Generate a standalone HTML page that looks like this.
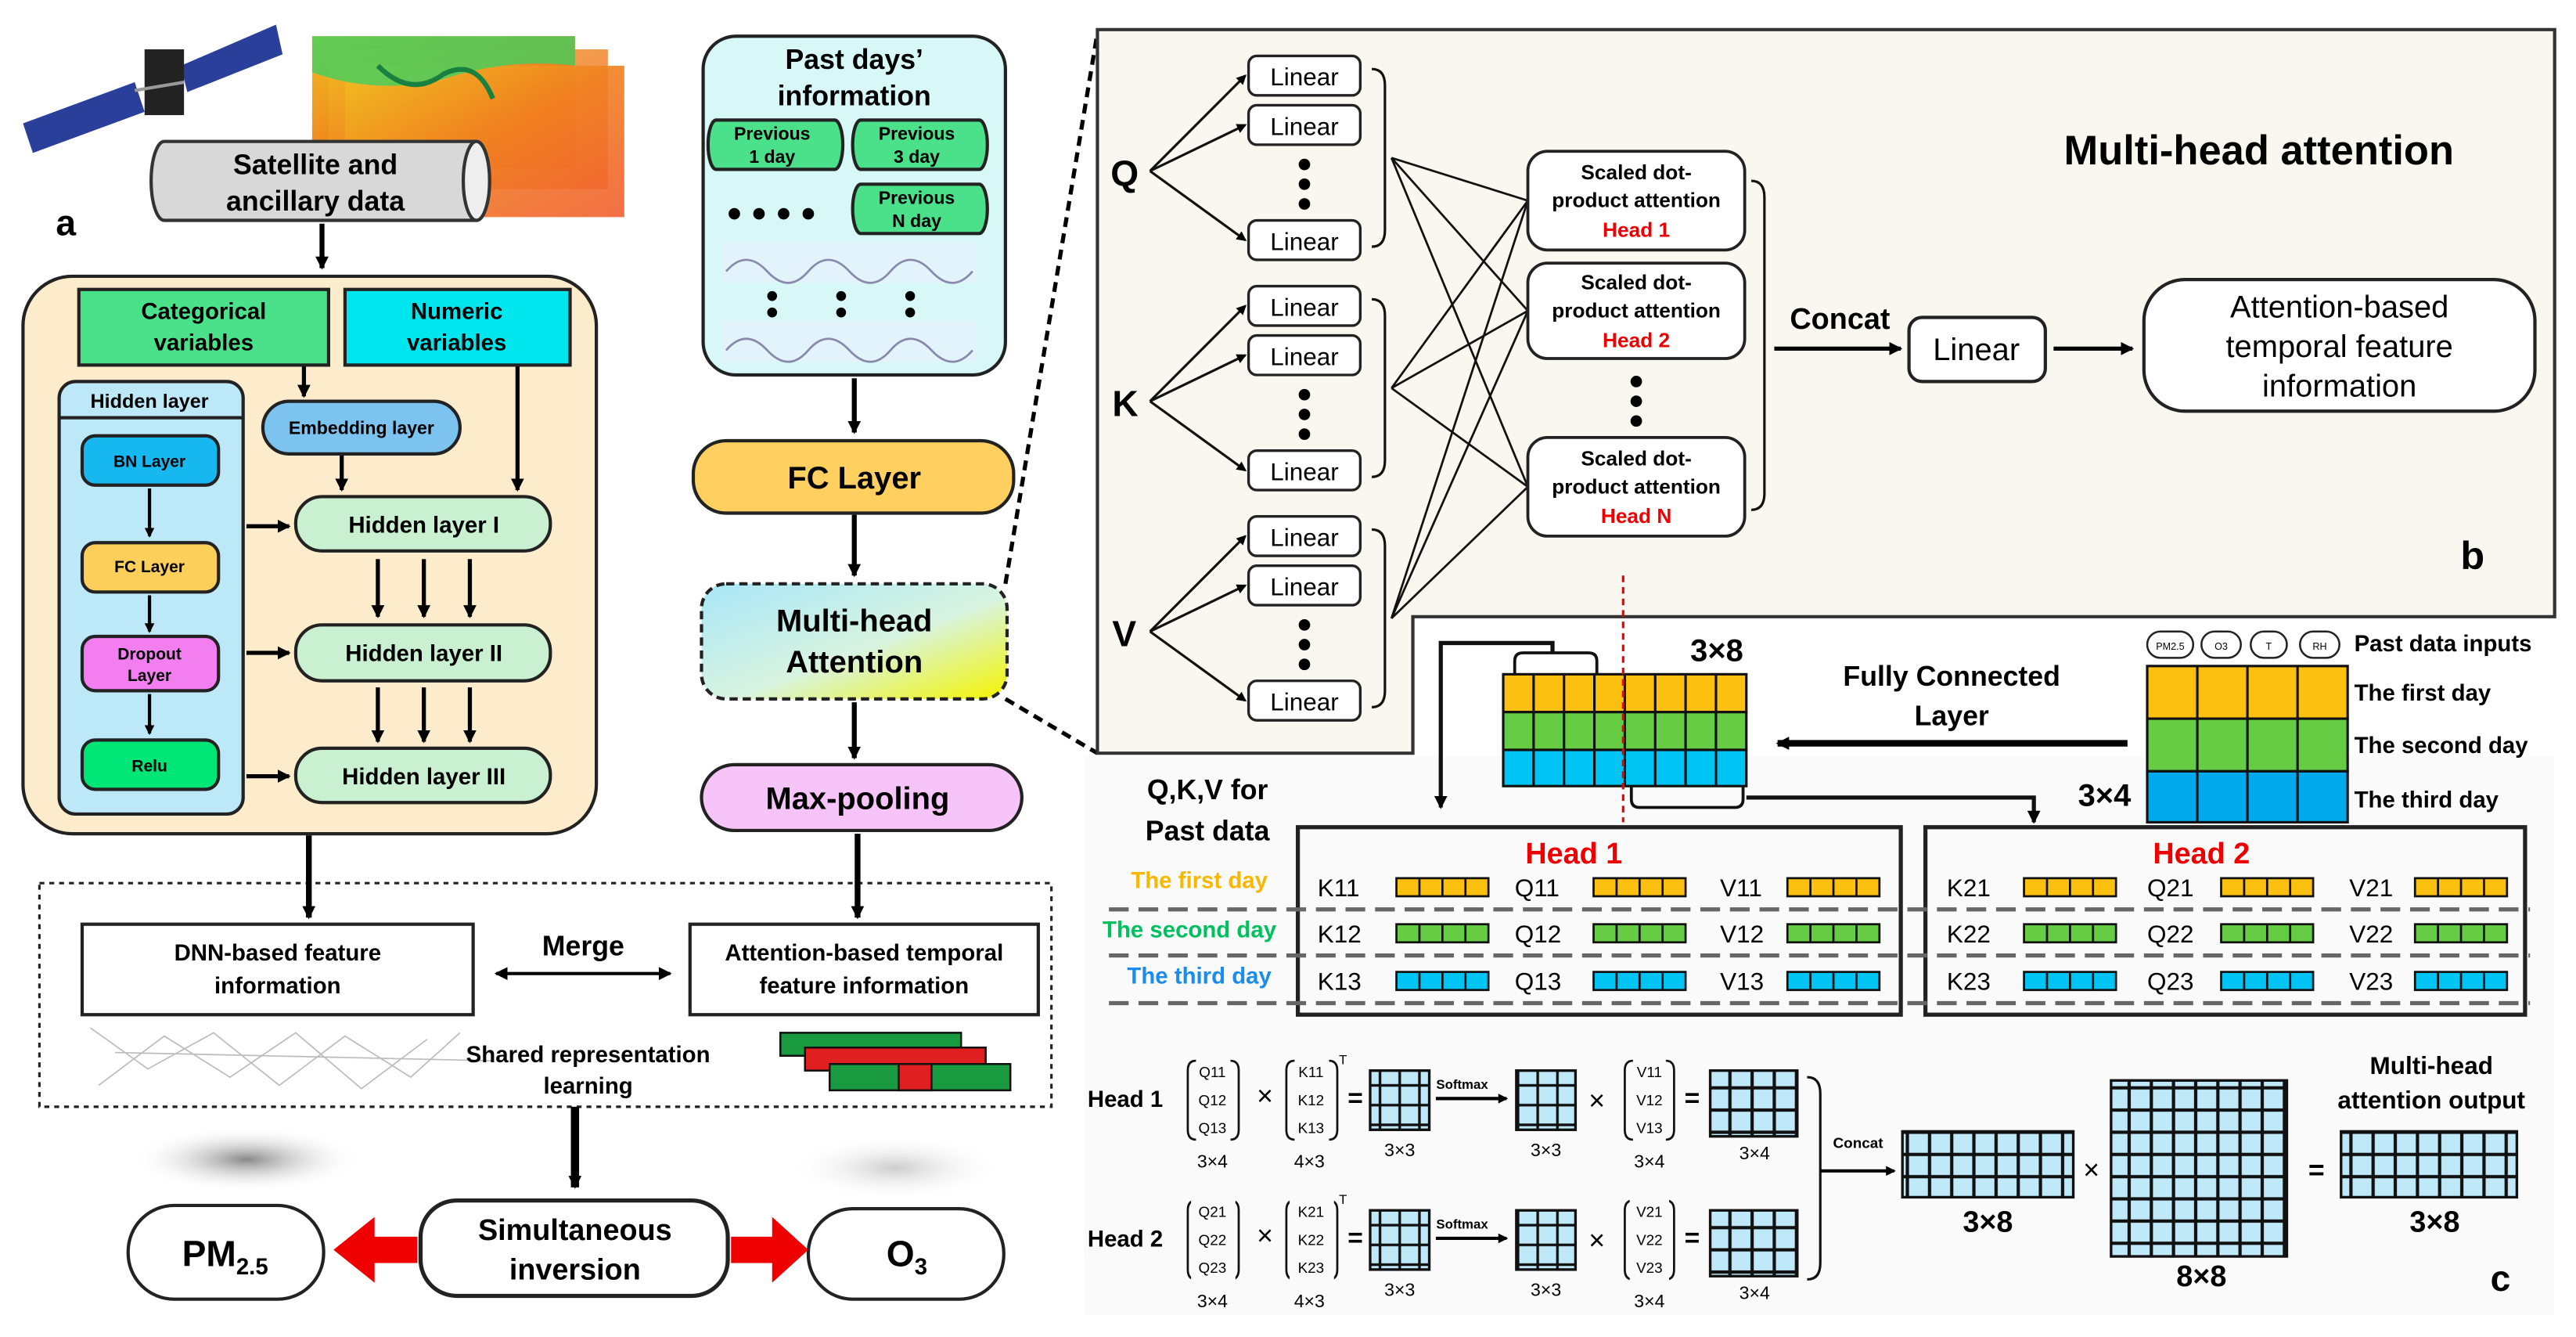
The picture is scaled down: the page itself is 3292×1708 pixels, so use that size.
<!DOCTYPE html>
<html><head><meta charset="utf-8"><style>
html,body{margin:0;padding:0;background:#fff}
svg{display:block}
text{font-family:"Liberation Sans",Arial,sans-serif}
</style></head><body>
<svg width="3292" height="1708" viewBox="0 0 1568 813" preserveAspectRatio="none" xmlns="http://www.w3.org/2000/svg">
<defs>
<marker id="ah" markerWidth="8" markerHeight="8" refX="7" refY="4" orient="auto-start-reverse" markerUnits="userSpaceOnUse"><path d="M0,0 L8,4 L0,8 z" fill="#000"/></marker>
<marker id="ahs" markerWidth="6" markerHeight="6" refX="5" refY="3" orient="auto" markerUnits="userSpaceOnUse"><path d="M0,0 L6,3 L0,6 z" fill="#000"/></marker>
<pattern id="g13" width="13.5" height="13.5" patternUnits="userSpaceOnUse"><rect width="13.5" height="13.5" fill="#bfe8f8" stroke="#111" stroke-width="2"/></pattern>
<pattern id="gs" width="12" height="12" patternUnits="userSpaceOnUse"><rect width="12" height="12" fill="#bfe8f8" stroke="#111" stroke-width="1.6"/></pattern>
<linearGradient id="mha" x1="0" y1="0" x2="1" y2="1"><stop offset="0" stop-color="#a8e6f8"/><stop offset="0.55" stop-color="#d8f4e0"/><stop offset="1" stop-color="#f4f400"/></linearGradient>
<linearGradient id="map" x1="0" y1="0" x2="1" y2="1"><stop offset="0" stop-color="#f0c020"/><stop offset="0.5" stop-color="#f08020"/><stop offset="1" stop-color="#f06030"/></linearGradient>
<radialGradient id="smog"><stop offset="0" stop-color="#888"/><stop offset="1" stop-color="#fff" stop-opacity="0"/></radialGradient>
<radialGradient id="smog2"><stop offset="0" stop-color="#ccc"/><stop offset="1" stop-color="#fff" stop-opacity="0"/></radialGradient>
</defs>

<!-- ===== Panel a ===== -->
<g>
<polygon points="14,75 82,50 88,68 20,93" fill="#2a3f9a"/>
<polygon points="110,40 168,15 172,33 114,56" fill="#2a3f9a"/>
<rect x="88" y="30" width="24" height="40" fill="#222"/>
<line x1="82" y1="55" x2="112" y2="50" stroke="#999" stroke-width="2"/>
</g>
<rect x="190" y="22" width="160" height="80" fill="url(#map)"/>
<rect x="200" y="30" width="170" height="85" fill="url(#map)" opacity="0.8"/>
<rect x="210" y="40" width="170" height="92" fill="url(#map)" opacity="0.9"/>
<path d="M190,22 h160 v18 q-40,-5 -80,8 q-40,10 -80,-4 z" fill="#40d060" opacity="0.8"/>
<path d="M230,40 q20,20 40,5 q20,-10 30,15" fill="none" stroke="#1a8040" stroke-width="3"/>
<path d="M100,86 L290,86 A8,24 0 0 1 290,134 L100,134 A8,24 0 0 1 100,86 z" fill="#d8d8d8" stroke="#333" stroke-width="2"/>
<ellipse cx="290" cy="110" rx="8" ry="24" fill="#eee" stroke="#333" stroke-width="2"/>
<text x="192" y="106" font-size="17" font-weight="bold" text-anchor="middle">Satellite and</text>
<text x="192" y="128" font-size="17" font-weight="bold" text-anchor="middle">ancillary data</text>
<text x="34" y="143" font-size="22" font-weight="bold">a</text>
<line x1="196" y1="136" x2="196" y2="163" stroke="#000" stroke-width="3" marker-end="url(#ah)"/>

<rect x="14" y="168" width="349" height="339" rx="30" fill="#fdeccb" stroke="#222" stroke-width="2"/>
<rect x="48" y="176" width="152" height="46" fill="#4be08a" stroke="#222" stroke-width="2"/>
<text x="124" y="194" font-size="14" font-weight="bold" text-anchor="middle">Categorical</text>
<text x="124" y="213" font-size="14" font-weight="bold" text-anchor="middle">variables</text>
<rect x="210" y="176" width="137" height="46" fill="#00e6ee" stroke="#222" stroke-width="2"/>
<text x="278" y="194" font-size="14" font-weight="bold" text-anchor="middle">Numeric</text>
<text x="278" y="213" font-size="14" font-weight="bold" text-anchor="middle">variables</text>

<rect x="36" y="232" width="112" height="263" rx="10" fill="#bde8f8" stroke="#222" stroke-width="2"/>
<line x1="36" y1="254" x2="148" y2="254" stroke="#222" stroke-width="2"/>
<text x="91" y="248" font-size="12" font-weight="bold" text-anchor="middle">Hidden layer</text>
<rect x="50" y="265" width="83" height="30" rx="8" fill="#17b8f0" stroke="#222" stroke-width="2"/>
<text x="91" y="284" font-size="10" font-weight="bold" text-anchor="middle">BN Layer</text>
<rect x="50" y="330" width="83" height="30" rx="8" fill="#fccf5a" stroke="#222" stroke-width="2"/>
<text x="91" y="348" font-size="10" font-weight="bold" text-anchor="middle">FC Layer</text>
<rect x="50" y="387" width="83" height="33" rx="8" fill="#f37ef0" stroke="#222" stroke-width="2"/>
<text x="91" y="401" font-size="10" font-weight="bold" text-anchor="middle">Dropout</text>
<text x="91" y="414" font-size="10" font-weight="bold" text-anchor="middle">Layer</text>
<rect x="50" y="450" width="83" height="30" rx="8" fill="#00e676" stroke="#222" stroke-width="2"/>
<text x="91" y="469" font-size="10" font-weight="bold" text-anchor="middle">Relu</text>
<g stroke="#000" stroke-width="2" marker-end="url(#ahs)">
<line x1="91" y1="297" x2="91" y2="326"/><line x1="91" y1="362" x2="91" y2="384"/><line x1="91" y1="422" x2="91" y2="446"/>
</g>
<rect x="160" y="244" width="120" height="32" rx="16" fill="#7cc3f0" stroke="#222" stroke-width="2"/>
<text x="220" y="264" font-size="11" font-weight="bold" text-anchor="middle">Embedding layer</text>
<rect x="180" y="302" width="155" height="33" rx="16" fill="#c9f0d0" stroke="#222" stroke-width="2"/>
<text x="258" y="324" font-size="14" font-weight="bold" text-anchor="middle">Hidden layer I</text>
<rect x="180" y="380" width="155" height="34" rx="16" fill="#c9f0d0" stroke="#222" stroke-width="2"/>
<text x="258" y="402" font-size="14" font-weight="bold" text-anchor="middle">Hidden layer II</text>
<rect x="180" y="455" width="155" height="33" rx="16" fill="#c9f0d0" stroke="#222" stroke-width="2"/>
<text x="258" y="477" font-size="14" font-weight="bold" text-anchor="middle">Hidden layer III</text>
<g stroke="#000" stroke-width="2.5" marker-end="url(#ah)">
<line x1="185" y1="223" x2="185" y2="241"/>
<line x1="208" y1="277" x2="208" y2="298"/>
<line x1="315" y1="223" x2="315" y2="298"/>
<line x1="150" y1="320" x2="176" y2="320"/>
<line x1="150" y1="397" x2="176" y2="397"/>
<line x1="150" y1="472" x2="176" y2="472"/>
<line x1="230" y1="340" x2="230" y2="375"/><line x1="258" y1="340" x2="258" y2="375"/><line x1="286" y1="340" x2="286" y2="375"/>
<line x1="230" y1="418" x2="230" y2="451"/><line x1="258" y1="418" x2="258" y2="451"/><line x1="286" y1="418" x2="286" y2="451"/>
</g>

<!-- right column -->
<rect x="428" y="22" width="184" height="206" rx="20" fill="#d8f8f8" stroke="#222" stroke-width="2"/>
<text x="520" y="42" font-size="17" font-weight="bold" text-anchor="middle">Past days’</text>
<text x="520" y="64" font-size="17" font-weight="bold" text-anchor="middle">information</text>
<g stroke="#222" stroke-width="2" fill="#4be08a">
<path d="M436,73 L508,73 A5,15 0 0 1 508,103 L436,103 A5,15 0 0 1 436,73 z"/>
<path d="M524,73 L596,73 A5,15 0 0 1 596,103 L524,103 A5,15 0 0 1 524,73 z"/>
<path d="M524,112 L596,112 A5,15 0 0 1 596,142 L524,142 A5,15 0 0 1 524,112 z"/>
</g>
<g font-size="11" font-weight="bold" text-anchor="middle">
<text x="470" y="85">Previous</text><text x="470" y="99">1 day</text>
<text x="558" y="85">Previous</text><text x="558" y="99">3 day</text>
<text x="558" y="124">Previous</text><text x="558" y="138">N day</text>
</g>
<g fill="#000"><circle cx="447" cy="130" r="3.5"/><circle cx="462" cy="130" r="3.5"/><circle cx="477" cy="130" r="3.5"/><circle cx="492" cy="130" r="3.5"/>
<circle cx="470" cy="180" r="3"/><circle cx="470" cy="190" r="3"/><circle cx="512" cy="180" r="3"/><circle cx="512" cy="190" r="3"/><circle cx="554" cy="180" r="3"/><circle cx="554" cy="190" r="3"/></g>
<rect x="440" y="147" width="155" height="25" fill="#eef" opacity="0.5"/>
<rect x="440" y="195" width="155" height="25" fill="#eef" opacity="0.5"/>
<path d="M442,165 q12,-14 25,0 t25,0 t25,0 t25,0 t25,0 t25,0" fill="none" stroke="#88a" stroke-width="1.3"/>
<path d="M442,213 q12,-14 25,0 t25,0 t25,0 t25,0 t25,0 t25,0" fill="none" stroke="#88a" stroke-width="1.3"/>
<line x1="520" y1="230" x2="520" y2="263" stroke="#000" stroke-width="3" marker-end="url(#ah)"/>
<rect x="422" y="268" width="195" height="44" rx="20" fill="#ffd060" stroke="#222" stroke-width="2"/>
<text x="520" y="297" font-size="19" font-weight="bold" text-anchor="middle">FC Layer</text>
<line x1="520" y1="313" x2="520" y2="350" stroke="#000" stroke-width="3" marker-end="url(#ah)"/>
<rect x="427" y="355" width="186" height="70" rx="15" fill="url(#mha)" stroke="#222" stroke-width="2" stroke-dasharray="5,3"/>
<text x="520" y="384" font-size="19" font-weight="bold" text-anchor="middle">Multi-head</text>
<text x="520" y="409" font-size="19" font-weight="bold" text-anchor="middle">Attention</text>
<line x1="520" y1="427" x2="520" y2="461" stroke="#000" stroke-width="3" marker-end="url(#ah)"/>
<rect x="427" y="465" width="195" height="40" rx="20" fill="#f6c4f8" stroke="#222" stroke-width="2"/>
<text x="522" y="492" font-size="19" font-weight="bold" text-anchor="middle">Max-pooling</text>
<line x1="612" y1="355" x2="668" y2="20" stroke="#000" stroke-width="2.5" stroke-dasharray="6,4"/>
<line x1="612" y1="425" x2="668" y2="458" stroke="#000" stroke-width="2.5" stroke-dasharray="6,4"/>

<!-- merge area -->
<rect x="24" y="537" width="616" height="136" fill="none" stroke="#222" stroke-width="1.5" stroke-dasharray="3,3"/>
<line x1="188" y1="508" x2="188" y2="558" stroke="#000" stroke-width="3.5" marker-end="url(#ah)"/>
<line x1="522" y1="507" x2="522" y2="558" stroke="#000" stroke-width="3.5" marker-end="url(#ah)"/>
<rect x="50" y="562" width="238" height="55" fill="#fff" stroke="#222" stroke-width="2"/>
<text x="169" y="584" font-size="14" font-weight="bold" text-anchor="middle">DNN-based feature</text>
<text x="169" y="604" font-size="14" font-weight="bold" text-anchor="middle">information</text>
<rect x="420" y="562" width="212" height="55" fill="#fff" stroke="#222" stroke-width="2"/>
<text x="526" y="584" font-size="14" font-weight="bold" text-anchor="middle">Attention-based temporal</text>
<text x="526" y="604" font-size="14" font-weight="bold" text-anchor="middle">feature information</text>
<text x="355" y="581" font-size="17" font-weight="bold" text-anchor="middle">Merge</text>
<line x1="302" y1="592" x2="408" y2="592" stroke="#000" stroke-width="2" marker-end="url(#ah)" marker-start="url(#ah)"/>
<path d="M55,625 L90,650 L130,628 L170,660 L210,630 L250,655 L280,628 M60,660 L100,630 L140,655 L180,628 L220,662 L260,632 M70,640 L300,645" fill="none" stroke="#bbb" stroke-width="0.8"/>
<text x="358" y="646" font-size="14" font-weight="bold" text-anchor="middle">Shared representation</text>
<text x="358" y="665" font-size="14" font-weight="bold" text-anchor="middle">learning</text>
<g stroke="#111" stroke-width="1.2">
<rect x="475" y="628" width="110" height="14" fill="#1a9a40"/>
<rect x="490" y="637" width="110" height="14" fill="#e02020"/>
<rect x="505" y="647" width="110" height="16" fill="#1a9a40"/>
<rect x="547" y="647" width="20" height="16" fill="#e02020"/>
</g>
<line x1="350" y1="673" x2="350" y2="722" stroke="#000" stroke-width="5" marker-end="url(#ah)"/>
<ellipse cx="150" cy="705" rx="70" ry="20" fill="url(#smog)"/>
<ellipse cx="545" cy="710" rx="65" ry="20" fill="url(#smog2)"/>
<rect x="78" y="733" width="119" height="57" rx="28" fill="#fff" stroke="#222" stroke-width="2"/>
<text x="137" y="770" font-size="22" font-weight="bold" text-anchor="middle">PM<tspan font-size="14" dy="5">2.5</tspan></text>
<rect x="256" y="730" width="187" height="58" rx="22" fill="#fff" stroke="#222" stroke-width="2.5"/>
<text x="350" y="754" font-size="18" font-weight="bold" text-anchor="middle">Simultaneous</text>
<text x="350" y="778" font-size="18" font-weight="bold" text-anchor="middle">inversion</text>
<rect x="492" y="735" width="119" height="55" rx="27" fill="#fff" stroke="#222" stroke-width="2"/>
<text x="552" y="770" font-size="22" font-weight="bold" text-anchor="middle">O<tspan font-size="14" dy="5">3</tspan></text>
<polygon points="254,752 228,752 228,740 203,760 228,780 228,768 254,768" fill="#ee0000"/>
<polygon points="445,752 470,752 470,740 492,760 470,780 470,768 445,768" fill="#ee0000"/>

<!-- ===== Panel b ===== -->
<polygon points="668,18 1555,18 1555,375 860,375 860,458 668,458" fill="#faf6f0" stroke="#333" stroke-width="2"/>
<text x="1375" y="100" font-size="25" font-weight="bold" text-anchor="middle">Multi-head attention</text>
<text x="1505" y="346" font-size="24" font-weight="bold" text-anchor="middle">b</text>
<g font-size="22" font-weight="bold"><text x="676" y="113">Q</text><text x="677" y="253">K</text><text x="677" y="393">V</text></g>
<g stroke="#222" stroke-width="1.6" fill="#fff">
<rect x="760" y="34" width="68" height="24" rx="5"/><rect x="760" y="64" width="68" height="24" rx="5"/><rect x="760" y="134" width="68" height="24" rx="5"/>
<rect x="760" y="174" width="68" height="24" rx="5"/><rect x="760" y="204" width="68" height="24" rx="5"/><rect x="760" y="274" width="68" height="24" rx="5"/>
<rect x="760" y="314" width="68" height="24" rx="5"/><rect x="760" y="344" width="68" height="24" rx="5"/><rect x="760" y="414" width="68" height="24" rx="5"/>
</g>
<g font-size="15" text-anchor="middle">
<text x="794" y="52">Linear</text><text x="794" y="82">Linear</text><text x="794" y="152">Linear</text>
<text x="794" y="192">Linear</text><text x="794" y="222">Linear</text><text x="794" y="292">Linear</text>
<text x="794" y="332">Linear</text><text x="794" y="362">Linear</text><text x="794" y="432">Linear</text>
</g>
<g fill="#000">
<circle cx="794" cy="100" r="3.5"/><circle cx="794" cy="112" r="3.5"/><circle cx="794" cy="124" r="3.5"/>
<circle cx="794" cy="240" r="3.5"/><circle cx="794" cy="252" r="3.5"/><circle cx="794" cy="264" r="3.5"/>
<circle cx="794" cy="380" r="3.5"/><circle cx="794" cy="392" r="3.5"/><circle cx="794" cy="404" r="3.5"/>
<circle cx="996" cy="232" r="3.5"/><circle cx="996" cy="244" r="3.5"/><circle cx="996" cy="256" r="3.5"/>
</g>
<g stroke="#111" stroke-width="1.5" marker-end="url(#ahs)" fill="none">
<line x1="700" y1="104" x2="758" y2="46"/><line x1="700" y1="104" x2="758" y2="76"/><line x1="700" y1="104" x2="758" y2="146"/>
<line x1="700" y1="244" x2="758" y2="186"/><line x1="700" y1="244" x2="758" y2="216"/><line x1="700" y1="244" x2="758" y2="286"/>
<line x1="700" y1="384" x2="758" y2="326"/><line x1="700" y1="384" x2="758" y2="356"/><line x1="700" y1="384" x2="758" y2="426"/>
</g>
<g stroke="#111" stroke-width="1.5" fill="none">
<path d="M835,42 q8,0 8,10 L843,140 q0,10 -8,10"/>
<path d="M835,182 q8,0 8,10 L843,280 q0,10 -8,10"/>
<path d="M835,322 q8,0 8,10 L843,420 q0,10 -8,10"/>
<path d="M1066,110 q8,0 8,10 L1074,300 q0,10 -8,10"/>
</g>
<g stroke="#111" stroke-width="1.3">
<line x1="847" y1="96" x2="930" y2="122"/><line x1="847" y1="96" x2="930" y2="189"/><line x1="847" y1="96" x2="930" y2="296"/>
<line x1="847" y1="236" x2="930" y2="122"/><line x1="847" y1="236" x2="930" y2="189"/><line x1="847" y1="236" x2="930" y2="296"/>
<line x1="847" y1="376" x2="930" y2="122"/><line x1="847" y1="376" x2="930" y2="189"/><line x1="847" y1="376" x2="930" y2="296"/>
</g>
<g stroke="#222" stroke-width="1.8" fill="#fff">
<rect x="930" y="92" width="132" height="60" rx="12"/><rect x="930" y="160" width="132" height="58" rx="12"/><rect x="930" y="266" width="132" height="60" rx="12"/>
</g>
<g font-size="12.5" font-weight="bold" text-anchor="middle">
<text x="996" y="109">Scaled dot-</text><text x="996" y="126">product attention</text><text x="996" y="144" fill="#ee0000">Head 1</text>
<text x="996" y="176">Scaled dot-</text><text x="996" y="193">product attention</text><text x="996" y="211" fill="#ee0000">Head 2</text>
<text x="996" y="283">Scaled dot-</text><text x="996" y="300">product attention</text><text x="996" y="318" fill="#ee0000">Head N</text>
</g>
<text x="1120" y="200" font-size="18" font-weight="bold" text-anchor="middle">Concat</text>
<line x1="1080" y1="212" x2="1157" y2="212" stroke="#000" stroke-width="2.5" marker-end="url(#ah)"/>
<rect x="1162" y="193" width="83" height="39" rx="8" fill="#fff" stroke="#222" stroke-width="2"/>
<text x="1203" y="219" font-size="19" text-anchor="middle">Linear</text>
<line x1="1250" y1="212" x2="1298" y2="212" stroke="#000" stroke-width="2.5" marker-end="url(#ah)"/>
<rect x="1305" y="170" width="238" height="80" rx="25" fill="#fff" stroke="#222" stroke-width="2"/>
<g font-size="19" text-anchor="middle"><text x="1424" y="193">Attention-based</text><text x="1424" y="217">temporal feature</text><text x="1424" y="241">information</text></g>

<!-- ===== Panel c ===== -->
<rect x="660" y="460" width="895" height="340" fill="#fafafa"/>
<g stroke="#111" stroke-width="1.5">
<rect x="915" y="410" width="148" height="23" fill="#fcc010"/>
<rect x="915" y="433" width="148" height="23" fill="#66cc44"/>
<rect x="915" y="456" width="148" height="22" fill="#00c4f4"/>
<path d="M933.5,410 V478 M952,410 V478 M970.5,410 V478 M989,410 V478 M1007.5,410 V478 M1026,410 V478 M1044.5,410 V478" fill="none"/>
</g>
<path d="M922,410 v-8 q0,-5 5,-5 h40 q5,0 5,5 v8" fill="none" stroke="#111" stroke-width="1.8"/>
<path d="M993,478 v8 q0,5 5,5 h58 q5,0 5,-5 v-8" fill="none" stroke="#111" stroke-width="1.8"/>
<path d="M945,397 v-6 h-68 v100" fill="none" stroke="#111" stroke-width="2.5" marker-end="url(#ah)"/>
<path d="M1063,485 h175 v15" fill="none" stroke="#111" stroke-width="2.5" marker-end="url(#ah)"/>
<line x1="988" y1="350" x2="988" y2="500" stroke="#e00" stroke-width="1.5" stroke-dasharray="4,3"/>
<text x="1045" y="402" font-size="19" font-weight="bold" text-anchor="middle">3×8</text>
<text x="1188" y="417" font-size="17" font-weight="bold" text-anchor="middle">Fully Connected</text>
<text x="1188" y="441" font-size="17" font-weight="bold" text-anchor="middle">Layer</text>
<line x1="1295" y1="452" x2="1082" y2="452" stroke="#000" stroke-width="4" marker-end="url(#ah)"/>
<text x="1281" y="490" font-size="19" font-weight="bold" text-anchor="middle">3×4</text>
<g stroke="#111" stroke-width="1.5">
<rect x="1307" y="405" width="122" height="32" fill="#fcc010"/>
<rect x="1307" y="437" width="122" height="32" fill="#66cc44"/>
<rect x="1307" y="469" width="122" height="31" fill="#00a8ec"/>
<path d="M1337.5,405 V500 M1368,405 V500 M1398.5,405 V500" fill="none"/>
</g>
<g stroke="#222" stroke-width="1.2" fill="#fff">
<rect x="1307" y="384" width="28" height="16" rx="8"/><rect x="1340" y="384" width="24" height="16" rx="8"/><rect x="1370" y="384" width="22" height="16" rx="8"/><rect x="1400" y="384" width="24" height="16" rx="8"/>
</g>
<g font-size="6" text-anchor="middle"><text x="1321" y="395">PM2.5</text><text x="1352" y="395">O3</text><text x="1381" y="395">T</text><text x="1412" y="395">RH</text></g>
<g font-size="14" font-weight="bold">
<text x="1433" y="396">Past data inputs</text><text x="1433" y="426">The first day</text><text x="1433" y="458">The second day</text><text x="1433" y="491">The third day</text>
</g>
<text x="735" y="486" font-size="17" font-weight="bold" text-anchor="middle">Q,K,V for</text>
<text x="735" y="511" font-size="17" font-weight="bold" text-anchor="middle">Past data</text>

<rect x="790" y="503" width="367" height="114" fill="none" stroke="#222" stroke-width="2.5"/>
<rect x="1172" y="503" width="365" height="114" fill="none" stroke="#222" stroke-width="2.5"/>
<text x="958" y="525" font-size="18" font-weight="bold" fill="#ee0000" text-anchor="middle">Head 1</text>
<text x="1340" y="525" font-size="18" font-weight="bold" fill="#ee0000" text-anchor="middle">Head 2</text>
<g stroke="#666" stroke-width="2.5" stroke-dasharray="12,6">
<line x1="675" y1="553" x2="1540" y2="553"/><line x1="675" y1="581" x2="1540" y2="581"/><line x1="675" y1="610" x2="1540" y2="610"/>
</g>
<g font-size="14" font-weight="bold" text-anchor="middle">
<text x="730" y="540" fill="#f8b800">The first day</text>
<text x="724" y="570" fill="#00c060">The second day</text>
<text x="730" y="598" fill="#1a8cf0">The third day</text>
</g>
<g font-size="15">
<text x="802" y="545">K11</text><text x="922" y="545">Q11</text><text x="1047" y="545">V11</text>
<text x="802" y="573">K12</text><text x="922" y="573">Q12</text><text x="1047" y="573">V12</text>
<text x="802" y="602">K13</text><text x="922" y="602">Q13</text><text x="1047" y="602">V13</text>
<text x="1185" y="545">K21</text><text x="1307" y="545">Q21</text><text x="1430" y="545">V21</text>
<text x="1185" y="573">K22</text><text x="1307" y="573">Q22</text><text x="1430" y="573">V22</text>
<text x="1185" y="602">K23</text><text x="1307" y="602">Q23</text><text x="1430" y="602">V23</text>
</g>
<g stroke="#111" stroke-width="1.3">
<g fill="#fcc010">
<rect x="850" y="534" width="56" height="11"/><rect x="970" y="534" width="56" height="11"/><rect x="1088" y="534" width="56" height="11"/>
<rect x="1232" y="534" width="56" height="11"/><rect x="1352" y="534" width="56" height="11"/><rect x="1470" y="534" width="56" height="11"/></g>
<g fill="#66cc44">
<rect x="850" y="562" width="56" height="11"/><rect x="970" y="562" width="56" height="11"/><rect x="1088" y="562" width="56" height="11"/>
<rect x="1232" y="562" width="56" height="11"/><rect x="1352" y="562" width="56" height="11"/><rect x="1470" y="562" width="56" height="11"/></g>
<g fill="#00c4f4">
<rect x="850" y="591" width="56" height="11"/><rect x="970" y="591" width="56" height="11"/><rect x="1088" y="591" width="56" height="11"/>
<rect x="1232" y="591" width="56" height="11"/><rect x="1352" y="591" width="56" height="11"/><rect x="1470" y="591" width="56" height="11"/></g>
<path stroke-dasharray="11 17 11 18 11 100" d="M864,534v68M878,534v68M892,534v68M984,534v68M998,534v68M1012,534v68M1102,534v68M1116,534v68M1130,534v68M1246,534v68M1260,534v68M1274,534v68M1366,534v68M1380,534v68M1394,534v68M1484,534v68M1498,534v68M1512,534v68" fill="none"/>
</g>

<!-- equations -->
<g id="eq1">
<text x="662" y="673" font-size="14" font-weight="bold">Head 1</text>
<path d="M728,645 q-5,0 -5,6 v36 q0,6 5,6 M749,645 q5,0 5,6 v36 q0,6 -5,6" fill="none" stroke="#111" stroke-width="1.3"/>
<g font-size="9" text-anchor="middle"><text x="738" y="655">Q11</text><text x="738" y="672">Q12</text><text x="738" y="689">Q13</text>
<text x="798" y="655">K11</text><text x="798" y="672">K12</text><text x="798" y="689">K13</text>
<text x="1004" y="655">V11</text><text x="1004" y="672">V12</text><text x="1004" y="689">V13</text></g>
<text x="770" y="672" font-size="17" text-anchor="middle">×</text>
<path d="M788,645 q-5,0 -5,6 v36 q0,6 5,6 M809,645 q5,0 5,6 v36 q0,6 -5,6" fill="none" stroke="#111" stroke-width="1.3"/>
<text x="815" y="647" font-size="8">T</text>
<text x="825" y="673" font-size="16" font-weight="bold" text-anchor="middle">=</text>
<rect x="834" y="651" width="36" height="36" fill="url(#gs)" stroke="#111" stroke-width="1.6"/>
<text x="890" y="662" font-size="8" font-weight="bold" text-anchor="middle">Softmax</text>
<line x1="874" y1="668" x2="917" y2="668" stroke="#000" stroke-width="2" marker-end="url(#ahs)"/>
<rect x="923" y="651" width="36" height="36" fill="url(#gs)" stroke="#111" stroke-width="1.6"/>
<text x="972" y="675" font-size="17" text-anchor="middle">×</text>
<path d="M994,645 q-5,0 -5,6 v36 q0,6 5,6 M1014,645 q5,0 5,6 v36 q0,6 -5,6" fill="none" stroke="#111" stroke-width="1.3"/>
<text x="1030" y="673" font-size="16" font-weight="bold" text-anchor="middle">=</text>
<rect x="1041" y="651" width="53" height="40" fill="url(#g13)" stroke="#111" stroke-width="1.6"/>
<g font-size="11" text-anchor="middle"><text x="738" y="710">3×4</text><text x="797" y="710">4×3</text><text x="852" y="703">3×3</text><text x="941" y="703">3×3</text><text x="1004" y="710">3×4</text><text x="1068" y="705">3×4</text></g>
</g>
<use href="#eq1" transform="translate(0,85)"/>
<rect x="660" y="745" width="48" height="20" fill="#fafafa"/>
<text x="662" y="758" font-size="14" font-weight="bold">Head 2</text>
<rect x="725" y="728" width="27" height="52" fill="#fafafa"/>
<rect x="785" y="728" width="27" height="52" fill="#fafafa"/>
<rect x="992" y="728" width="24" height="52" fill="#fafafa"/>
<g font-size="9" text-anchor="middle"><text x="738" y="740">Q21</text><text x="738" y="757">Q22</text><text x="738" y="774">Q23</text>
<text x="798" y="740">K21</text><text x="798" y="757">K22</text><text x="798" y="774">K23</text>
<text x="1004" y="740">V21</text><text x="1004" y="757">V22</text><text x="1004" y="774">V23</text></g>
<path d="M1100,655 q8,0 8,10 L1108,768 q0,10 -8,10" fill="none" stroke="#111" stroke-width="1.5"/>
<text x="1131" y="698" font-size="9" font-weight="bold" text-anchor="middle">Concat</text>
<line x1="1108" y1="712" x2="1153" y2="712" stroke="#000" stroke-width="2" marker-end="url(#ahs)"/>
<rect x="1158" y="688" width="104" height="40" fill="url(#g13)" stroke="#111" stroke-width="1.6"/>
<text x="1273" y="717" font-size="17" text-anchor="middle">×</text>
<rect x="1285" y="657" width="107" height="107" fill="url(#g13)" stroke="#111" stroke-width="1.6"/>
<text x="1410" y="717" font-size="17" font-weight="bold" text-anchor="middle">=</text>
<rect x="1425" y="688" width="107" height="40" fill="url(#g13)" stroke="#111" stroke-width="1.6"/>
<g font-size="18" font-weight="bold" text-anchor="middle"><text x="1210" y="749">3×8</text><text x="1340" y="782">8×8</text><text x="1482" y="749">3×8</text></g>
<text x="1480" y="653" font-size="15" font-weight="bold" text-anchor="middle">Multi-head</text>
<text x="1480" y="674" font-size="15" font-weight="bold" text-anchor="middle">attention output</text>
<text x="1522" y="785" font-size="22" font-weight="bold" text-anchor="middle">c</text>
</svg>
</body></html>
